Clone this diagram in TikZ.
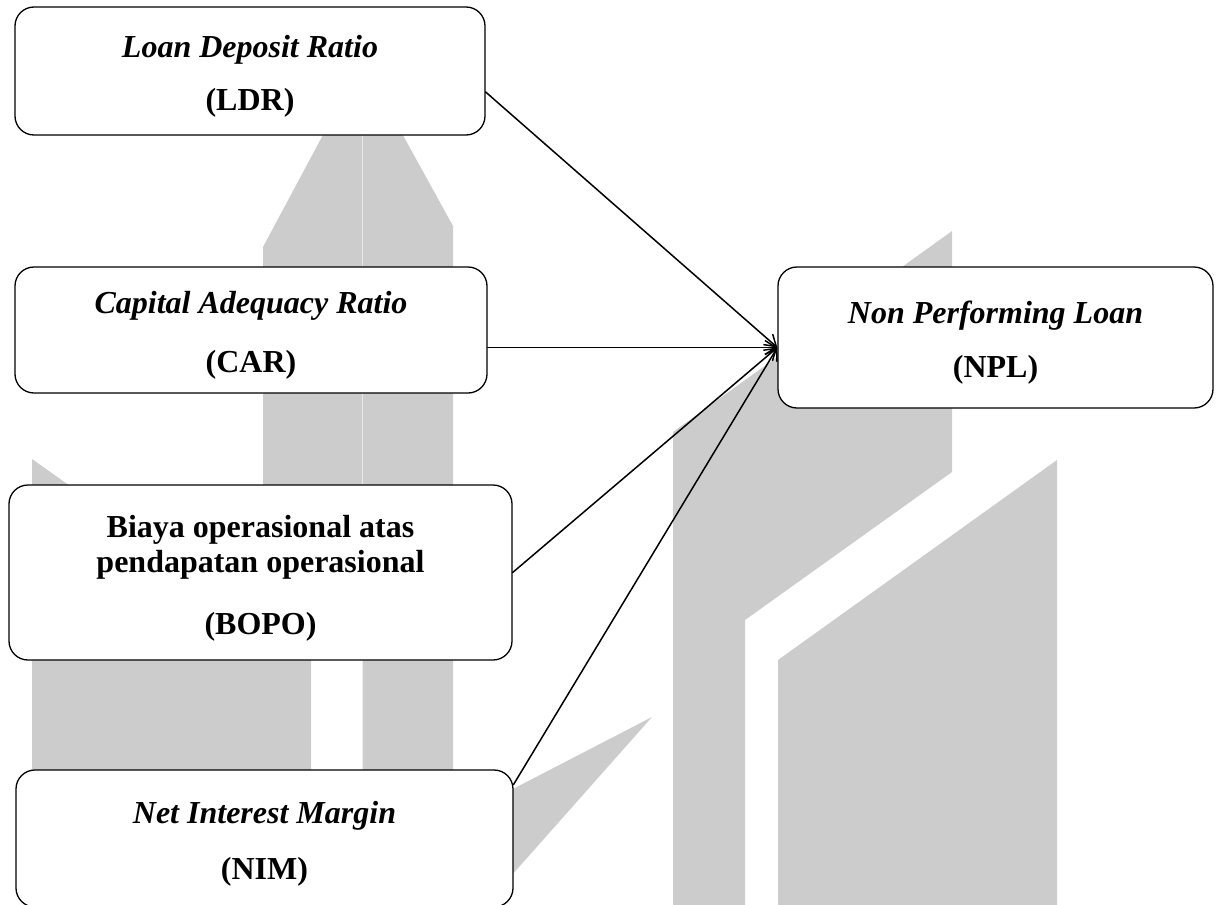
\documentclass[tikz,border=0pt]{standalone}
\usepackage{fontspec}
\setmainfont{Liberation Serif}
\usetikzlibrary{arrows.meta,calc}
\definecolor{markgray}{RGB}{204,204,204}
\newcommand{\boxtext}[1]{\raisebox{-6pt}[\height][\depth]{\begin{tabular}{@{}c@{}}#1\end{tabular}}}
\tikzset{
	factor/.style={draw,fill=white,rounded corners=19pt,line width=1.3pt,
		inner sep=0pt,font=\fontsize{32}{35}\selectfont\bfseries},
	logo/.style={fill=markgray,draw=none}
}
\begin{document}
\begin{tikzpicture}[
	x=1pt,y=-1pt,
	>={Straight Barb[length=11pt,width=14pt]},
	line cap=round,
	line join=round
	]
	\useasboundingbox (0,0) rectangle (1219,905);
	\clip (0,0) rectangle (1219,905);
	% watermark
	\fill[logo] (263,620) -- (263,247) -- (362,62) -- (362,620) -- cycle;
	\fill[logo] (362.6,62) -- (453,226) -- (453,905) -- (362.6,905) -- cycle;
	\fill[logo] (32,905) -- (32,459) -- (311,657) -- (311,905) -- cycle;
	\fill[logo] (652,717) -- (480,806) -- (480,911) -- cycle;
	\fill[logo] (673,905) -- (673,432) -- (952,231) -- (952,472) -- (745,620) -- (745,905) -- cycle;
	\fill[logo] (778,905) -- (778,660) -- (1057,460) -- (1057,905) -- cycle;
	% variables
	\node[factor,minimum width=470pt,minimum height=128pt] (ldr) at (250,71)
		{\boxtext{\textit{Loan Deposit Ratio}\\[18pt](LDR)}};
	\node[factor,minimum width=472pt,minimum height=126pt] (car) at (251,330)
		{\boxtext{\textit{Capital Adequacy Ratio}\\[24pt](CAR)}};
	\node[factor,minimum width=503pt,minimum height=175pt] (bopo) at (260.5,572.5)
		{\boxtext{Biaya operasional atas\\pendapatan operasional\\[27pt](BOPO)}};
	\node[factor,minimum width=497pt,minimum height=137pt] (nim) at (264.5,838.5)
		{\boxtext{\textit{Net Interest Margin}\\[21pt](NIM)}};
	\node[factor,minimum width=435pt,minimum height=141pt] (npl) at (995.5,337.5)
		{\boxtext{\textit{Non Performing Loan}\\[19pt](NPL)}};
	\coordinate (hub) at ($(npl.west)+(0,10)$);
	\begin{scope}[->,line width=1.5pt]
		\draw ($(ldr.east)+(0,21)$) -- (hub);
		\draw (car.east |- hub) -- (hub);
		\draw (bopo.east) -- (hub);
		\draw ($(nim.north east)+(0,15)$) -- (hub);
	\end{scope}
\end{tikzpicture}
\end{document}
